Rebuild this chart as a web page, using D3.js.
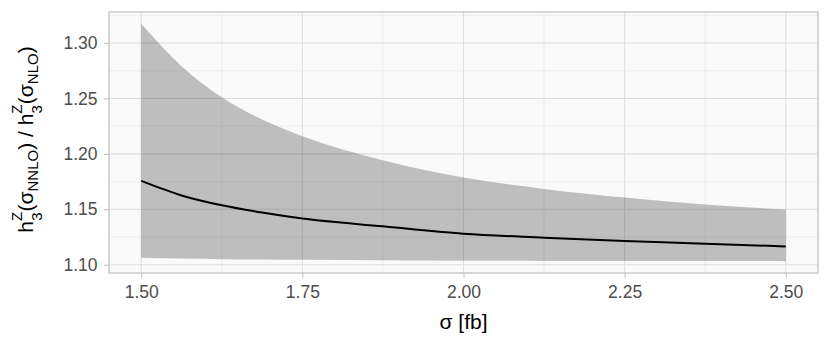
<!DOCTYPE html>
<html>
<head>
<meta charset="utf-8">
<script src="https://cdn.jsdelivr.net/npm/d3@7"></script>
<style>
  body { margin: 0; background: #fff; }
  text { font-family: "Liberation Sans", Arial, sans-serif; }
</style>
</head>
<body>
<div id="chart"></div>
<script>
// données
const sigma = [1.5, 1.5625, 1.625, 1.6875, 1.75, 1.875, 2.0, 2.125, 2.25, 2.375, 2.5];
const ratio = [1.1756, 1.1625, 1.1536, 1.1470, 1.1416, 1.1346, 1.1280, 1.1244, 1.1213, 1.1190, 1.1165];
const upper = [1.3173, 1.2790, 1.2510, 1.2310, 1.2160, 1.1943, 1.1787, 1.1684, 1.1606, 1.1543, 1.1497];
const lower = [1.1063, 1.1056, 1.1050, 1.1047, 1.1044, 1.1039, 1.1036, 1.1034, 1.1033, 1.1033, 1.1032];
const xTicks = [1.5, 1.75, 2.0, 2.25, 2.5];
const yTicks = [1.10, 1.15, 1.20, 1.25, 1.30];

const width = 830, height = 346;
const margin = { top: 12, right: 12, bottom: 73, left: 109 };
const innerWidth = width - margin.left - margin.right;
const innerHeight = height - margin.top - margin.bottom;

const data = sigma.map((s, i) => ({ s, r: ratio[i], hi: upper[i], lo: lower[i] }));

const svg = d3.select('#chart').append('svg')
    .attr('width', width)
    .attr('height', height);

const g = svg.append('g')
    .attr('transform', `translate(${margin.left},${margin.top})`);

// échelles avec expansion de 5% comme ggplot
const xExt = d3.extent(sigma);
const xPad = (xExt[1] - xExt[0]) * 0.05;
const xScale = d3.scaleLinear()
    .domain([xExt[0] - xPad, xExt[1] + xPad])
    .range([0, innerWidth]);

const yMin = d3.min(lower), yMax = d3.max(upper);
const yPad = (yMax - yMin) * 0.05;
const yScale = d3.scaleLinear()
    .domain([yMin - yPad, yMax + yPad])
    .range([innerHeight, 0]);

// fond du panneau
g.append('rect')
    .attr('width', innerWidth)
    .attr('height', innerHeight)
    .attr('fill', '#fafafa');

// grilles mineures
const xMinor = d3.range(xTicks.length - 1).map(i => (xTicks[i] + xTicks[i + 1]) / 2);
const yMinor = d3.range(yTicks.length).map(i => yTicks[i] - 0.025).concat([yTicks[yTicks.length - 1] + 0.025])
    .filter(v => v > yScale.domain()[0] && v < yScale.domain()[1]);

g.selectAll('line.xminor').data(xMinor).enter().append('line')
    .attr('x1', d => xScale(d)).attr('x2', d => xScale(d))
    .attr('y1', 0).attr('y2', innerHeight)
    .attr('stroke', '#e6e6e6').attr('stroke-width', 0.6);
g.selectAll('line.yminor').data(yMinor).enter().append('line')
    .attr('y1', d => yScale(d)).attr('y2', d => yScale(d))
    .attr('x1', 0).attr('x2', innerWidth)
    .attr('stroke', '#e6e6e6').attr('stroke-width', 0.6);

// grilles majeures
g.selectAll('line.xmajor').data(xTicks).enter().append('line')
    .attr('x1', d => xScale(d)).attr('x2', d => xScale(d))
    .attr('y1', 0).attr('y2', innerHeight)
    .attr('stroke', '#dedede').attr('stroke-width', 1.1);
g.selectAll('line.ymajor').data(yTicks).enter().append('line')
    .attr('y1', d => yScale(d)).attr('y2', d => yScale(d))
    .attr('x1', 0).attr('x2', innerWidth)
    .attr('stroke', '#dedede').attr('stroke-width', 1.1);

// bande d'incertitude
const area = d3.area()
    .x(d => xScale(d.s))
    .y0(d => yScale(d.lo))
    .y1(d => yScale(d.hi))
    .curve(d3.curveMonotoneX);

g.append('path')
    .datum(data)
    .attr('d', area)
    .attr('fill', '#000')
    .attr('fill-opacity', 0.24);

// courbe centrale
const line = d3.line()
    .x(d => xScale(d.s))
    .y(d => yScale(d.r))
    .curve(d3.curveMonotoneX);

g.append('path')
    .datum(data)
    .attr('d', line)
    .attr('fill', 'none')
    .attr('stroke', '#000')
    .attr('stroke-width', 2);

// bordure
g.append('rect')
    .attr('width', innerWidth)
    .attr('height', innerHeight)
    .attr('fill', 'none')
    .attr('stroke', '#c4c4c4')
    .attr('stroke-width', 1.3);

// Axes
const xAxis = g.append('g')
    .attr('transform', `translate(0,${innerHeight})`)
    .call(d3.axisBottom(xScale).tickValues(xTicks).tickFormat(d3.format('.2f')).tickSize(5).tickPadding(8));
const yAxis = g.append('g')
    .call(d3.axisLeft(yScale).tickValues(yTicks).tickFormat(d3.format('.2f')).tickSize(5).tickPadding(6.5));

[xAxis, yAxis].forEach(a => {
    a.select('.domain').remove();
    a.selectAll('.tick line').attr('stroke', '#c4c4c4').attr('stroke-width', 1.1);
    a.selectAll('.tick text')
        .attr('fill', '#4d4d4d')
        .style('font-size', '17.5px')
        .style('font-family', '"Liberation Sans", Arial, sans-serif');
});

// titres
svg.append('text')
    .attr('x', margin.left + innerWidth / 2)
    .attr('y', 329)
    .attr('text-anchor', 'middle')
    .style('font-size', '21px')
    .attr('fill', '#000')
    .text('σ [fb]');

const yt = svg.append('text')
    .attr('transform', `translate(33,${margin.top + innerHeight / 2 - 3}) rotate(-90)`)
    .attr('text-anchor', 'middle')
    .style('font-size', '21px')
    .attr('fill', '#000');

function hz(t, sub) {
    t.append('tspan').text('h');
    t.append('tspan').text('Z').style('font-size', '15px').attr('dy', -11);
    t.append('tspan').text('3').style('font-size', '15px').attr('dx', -9).attr('dy', 20);
    t.append('tspan').text('(σ').attr('dx', 1).attr('dy', -9);
    t.append('tspan').text(sub).style('font-size', '15px').attr('dy', 5);
    t.append('tspan').text(')').attr('dy', -5);
}
hz(yt, 'NNLO');
yt.append('tspan').text(' / ');
hz(yt, 'NLO');
</script>
</body>
</html>
